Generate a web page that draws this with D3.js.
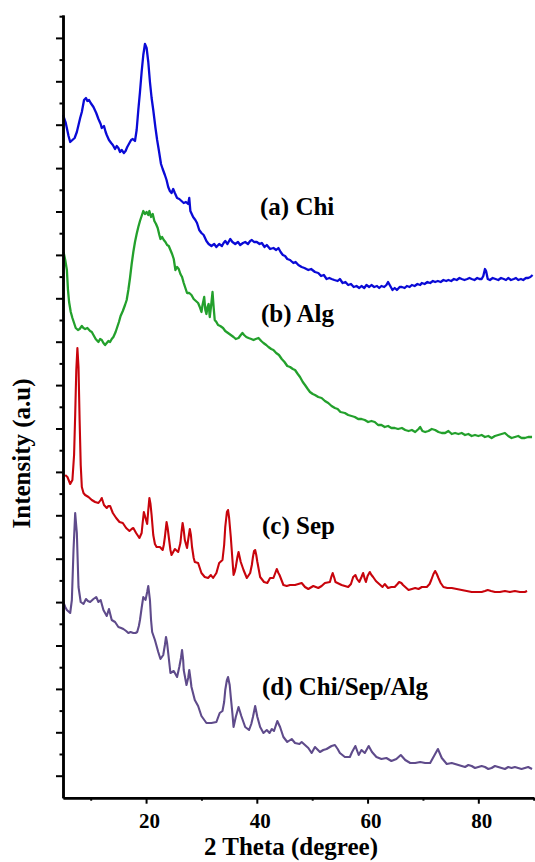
<!DOCTYPE html>
<html>
<head>
<meta charset="utf-8">
<script src="https://cdn.jsdelivr.net/npm/d3@7"></script>
<style>
  body { margin: 0; background: #fff; }
  svg { display: block; }
  text { font-family: "Liberation Serif", "Times New Roman", serif; font-weight: bold; fill: #000; }
</style>
</head>
<body>
<script>
// XRD patterns, stacked (intensity in a.u.)
const chi = [[5.0,685],[5.5,677],[6.0,664],[6.3,658],[6.7,660],[7.1,662],[7.5,668],[8.1,682],[8.4,688],[8.8,700],[9.15,702],[9.4,699],[9.7,700],[10.0,697],[10.5,693],[11.0,687],[11.4,681],[11.8,676],[12.0,672],[12.4,674],[12.7,668],[12.9,665],[13.3,660],[13.7,657],[14.0,655],[14.4,651],[14.7,654],[15.0,652],[15.3,648],[15.6,650],[16.0,647],[16.3,649],[16.6,653],[17.0,657],[17.3,660],[17.6,661],[18.0,659],[18.3,670],[18.6,690],[18.9,708],[19.2,728],[19.5,745],[19.8,756],[20.1,752],[20.4,738],[20.7,718],[21.0,702],[21.3,690],[21.7,672],[22.0,660],[22.3,650],[22.7,636],[23.0,631],[23.4,625],[23.7,620],[24.0,613],[24.3,609],[24.6,607],[24.9,611],[25.2,607],[25.6,602],[26.0,601],[26.4,599],[26.8,597],[27.2,598],[27.6,596],[27.8,602],[28.0,589],[28.5,583],[28.9,580],[29.2,577],[29.6,570],[30.0,567],[30.4,565],[30.9,559],[31.3,556],[31.8,554],[32.3,556],[32.7,553],[33.2,556],[33.7,554],[34.0,557],[34.3,559],[34.7,556],[35.2,561],[35.6,558],[36.1,556],[36.6,558],[37.0,555],[37.5,557],[37.9,558],[38.4,556],[38.8,559],[39.1,560],[39.5,558],[40.0,558],[40.5,556],[40.9,557],[41.4,553],[41.8,555],[42.4,551],[43.0,552],[43.5,550],[43.9,552],[44.3,548],[44.7,545],[45.1,544],[45.5,541],[46.0,540],[46.6,537],[47.0,538],[47.5,535],[48.1,533],[48.6,532],[49.3,530],[49.8,531],[50.5,528],[51.1,527],[51.6,524],[52.1,525],[52.6,521],[53.1,522],[53.5,521],[54.0,520],[54.6,519],[55.0,521],[55.5,517],[56.0,518],[56.5,515],[57.0,516],[57.5,513],[58.0,514],[58.5,512],[58.9,514],[59.4,512],[59.8,515],[60.3,513],[60.7,515],[61.2,513],[61.7,514],[62.1,512],[62.5,514],[63.0,513],[63.4,515],[63.7,518],[64.1,514],[64.5,510],[64.9,512],[65.3,510],[65.8,513],[66.2,513],[66.7,512],[67.1,514],[67.6,513],[68.0,515],[68.5,514],[69.0,516],[69.5,515],[69.8,517],[70.3,516],[70.8,518],[71.3,517],[71.8,519],[72.2,518],[72.7,519],[73.2,518],[73.7,520],[74.2,519],[74.6,520],[75.1,519],[75.6,521],[76.1,520],[76.6,522],[77.0,521],[77.5,520],[78.0,521],[78.4,522],[78.8,521],[79.3,520],[79.8,522],[80.2,521],[80.6,521],[80.9,524],[81.2,531],[81.4,529],[81.7,521],[82.1,520],[82.6,522],[83.1,521],[83.6,520],[84.1,522],[84.6,521],[85.0,520],[85.4,522],[85.9,520],[86.4,521],[86.8,522],[87.2,520],[87.7,521],[88.1,520],[88.6,522],[89.0,522],[89.4,523],[89.8,525]];

const alg = [[5.1,548],[5.4,540],[5.7,530],[5.9,510],[6.1,498],[6.4,488],[6.7,482],[7.0,477],[7.3,472],[7.7,470],[8.0,471],[8.4,474],[8.7,472],[9.0,471],[9.4,472],[9.9,469],[10.2,468],[10.5,465],[10.9,461],[11.4,458],[11.7,461],[12.0,460],[12.3,457],[12.6,455],[12.9,457],[13.2,459],[13.5,458],[13.8,461],[14.1,463],[14.5,468],[14.8,473],[15.1,478],[15.4,484],[15.8,489],[16.2,495],[16.5,500],[16.8,510],[17.1,522],[17.4,536],[17.7,548],[18.0,558],[18.3,566],[18.6,573],[18.9,579],[19.2,584],[19.5,589],[19.8,586],[20.1,588],[20.4,585],[20.6,589],[20.9,583],[21.2,586],[21.5,579],[21.8,576],[22.1,572],[22.4,565],[22.6,561],[22.9,563],[23.2,560],[23.5,558],[23.8,555],[24.1,554],[24.4,550],[24.7,546],[25.0,541],[25.3,530],[25.6,533],[25.9,531],[26.2,526],[26.5,523],[26.8,517],[27.1,512],[27.4,507],[27.8,507],[28.2,505],[28.6,501],[29.0,499],[29.4,497],[29.7,493],[30.0,488],[30.2,495],[30.5,503],[30.7,490],[30.9,486],[31.1,493],[31.3,496],[31.5,483],[31.8,497],[32.0,508],[32.2,493],[32.4,480],[32.7,478],[33.0,475],[33.4,474],[33.9,472],[34.3,469],[34.8,467],[35.3,465],[35.8,463],[36.2,461],[36.7,462],[37.1,465],[37.4,467],[37.7,465],[38.1,463],[38.5,462],[39.0,461],[39.4,460],[39.8,461],[40.3,462],[40.8,459],[41.2,457],[41.7,455],[42.1,453],[42.6,451],[43.0,450],[43.5,447],[44.0,445],[44.5,441],[45.0,438],[45.5,434],[46.0,433],[46.5,431],[46.9,430],[47.4,426],[47.8,423],[48.3,418],[48.7,415],[49.2,411],[49.6,408],[50.1,406],[50.5,405],[51.1,403],[51.7,402],[52.3,399],[52.9,397],[53.5,394],[54.1,392],[54.6,391],[55.1,388],[55.9,387],[56.5,385],[57.1,384],[57.7,383],[58.3,381],[58.9,381],[59.5,380],[60.1,378],[60.7,379],[61.3,378],[61.9,375],[62.5,375],[63.1,373],[63.7,374],[64.3,372],[64.9,372],[65.5,371],[66.2,372],[66.8,370],[67.4,369],[68.0,370],[68.6,368],[69.2,371],[69.5,373],[69.9,369],[70.4,368],[71.0,369],[71.6,371],[72.2,370],[72.8,368],[73.4,367],[74.0,367],[74.6,369],[75.2,366],[75.8,367],[76.4,366],[77.0,367],[77.6,365],[78.2,366],[78.8,364],[79.4,365],[80.0,364],[80.6,365],[81.2,363],[81.8,364],[82.4,362],[83.0,364],[83.6,365],[84.2,366],[84.8,367],[85.4,364],[86.0,362],[86.6,363],[87.2,364],[87.8,362],[88.4,362],[89.0,363],[89.7,363]];

const sep = [[5.4,325],[5.8,323],[6.3,316],[6.7,320],[7.0,345],[7.2,385],[7.4,430],[7.6,452],[7.8,433],[8.0,380],[8.2,335],[8.4,313],[8.7,307],[9.0,305],[9.6,303],[10.2,300],[10.8,298],[11.4,297],[11.8,300],[12.0,302],[12.4,295],[12.9,292],[13.2,294],[13.5,294],[14.0,287],[14.6,282],[15.2,278],[15.8,277],[16.4,272],[17.0,269],[17.4,271],[17.7,272],[18.2,267],[18.8,262],[19.2,267],[19.4,278],[19.6,288],[19.8,284],[20.0,280],[20.2,276],[20.4,290],[20.6,302],[20.8,296],[21.0,285],[21.3,265],[21.6,256],[21.9,253],[22.5,253],[23.0,250],[23.2,255],[23.4,263],[23.7,278],[23.9,272],[24.1,263],[24.4,250],[24.6,245],[25.2,251],[25.8,248],[26.2,257],[26.4,268],[26.6,277],[26.8,270],[27.0,260],[27.4,252],[27.6,260],[27.9,271],[28.1,265],[28.3,253],[28.6,242],[28.8,238],[29.4,237],[30.0,227],[30.6,223],[31.2,222],[31.7,225],[32.1,222],[32.7,227],[33.2,237],[33.8,240],[34.1,255],[34.3,273],[34.6,288],[34.8,290],[35.0,282],[35.3,263],[35.6,240],[35.8,225],[36.0,228],[36.2,233],[36.5,243],[36.7,248],[37.1,238],[37.6,230],[38.2,222],[38.8,227],[39.1,235],[39.3,243],[39.5,249],[39.7,250],[39.9,245],[40.1,238],[40.6,223],[41.3,218],[41.9,217],[42.4,222],[43.0,222],[43.4,228],[43.6,231],[43.9,227],[44.1,225],[44.8,215],[45.4,214],[46.0,215],[46.9,215],[47.5,216],[48.1,217],[48.7,213],[49.3,211],[50.2,214],[51.1,212],[51.7,214],[52.3,217],[53.2,218],[53.5,224],[53.7,227],[54.0,222],[54.2,218],[55.3,215],[56.5,213],[57.0,216],[57.4,223],[57.8,225],[58.1,221],[58.5,218],[58.9,223],[59.2,227],[59.5,221],[59.7,218],[60.0,224],[60.4,228],[60.7,225],[61.0,223],[61.5,219],[61.9,217],[62.7,213],[63.1,216],[63.7,212],[64.3,213],[64.9,213],[65.4,216],[65.7,218],[66.1,217],[66.4,215],[67.4,210],[68.0,211],[68.6,212],[69.2,211],[69.8,213],[70.7,213],[71.2,216],[71.5,220],[71.9,226],[72.2,229],[72.5,226],[72.8,222],[73.2,217],[73.7,213],[74.4,212],[75.2,212],[76.1,211],[77.0,210],[77.9,209],[78.8,208],[79.7,208],[80.6,208],[81.2,209],[81.7,210],[82.3,209],[83.0,208],[83.9,208],[84.8,209],[85.7,208],[86.6,209],[87.5,208],[88.4,208],[88.8,209]];

const chiSepAlg = [[5.05,198],[5.4,193],[5.7,190],[6.3,187],[6.6,200],[6.9,250],[7.2,287],[7.5,267],[7.8,213],[8.2,198],[8.7,196],[9.15,201],[9.5,199],[9.9,198],[10.5,201],[11.0,203],[11.4,198],[11.8,200],[12.3,190],[12.9,184],[13.3,191],[13.8,180],[14.4,178],[15.0,173],[15.5,172],[15.9,171],[16.4,169],[16.8,167],[17.2,168],[17.7,167],[18.1,167],[18.4,168],[18.7,174],[18.9,180],[19.2,192],[19.5,203],[19.9,200],[20.2,208],[20.4,214],[20.7,200],[20.9,180],[21.1,168],[21.6,160],[22.2,148],[22.6,141],[23.1,145],[23.4,155],[23.6,163],[23.8,157],[24.0,147],[24.4,127],[25.0,129],[25.6,123],[26.0,133],[26.3,142],[26.5,150],[26.7,140],[26.8,130],[27.3,115],[27.6,122],[27.8,130],[28.0,122],[28.2,113],[28.8,100],[29.4,94],[30.0,84],[30.9,77],[31.8,77],[32.7,78],[33.3,87],[33.8,89],[34.1,98],[34.3,110],[34.6,120],[34.8,123],[35.1,115],[35.3,103],[35.6,86],[35.8,73],[36.2,83],[36.7,93],[37.2,84],[37.9,73],[38.6,70],[39.0,76],[39.3,83],[39.7,94],[40.1,83],[40.6,73],[41.2,67],[41.8,70],[42.3,67],[42.7,71],[43.1,69],[43.7,79],[44.2,73],[44.8,63],[45.5,58],[46.3,61],[46.9,57],[47.7,56],[48.1,58],[48.7,55],[49.3,52],[49.9,47],[50.5,53],[51.4,48],[52.0,50],[52.6,51],[53.5,54],[54.1,55],[54.6,51],[55.0,47],[55.9,43],[56.8,43],[57.2,48],[57.8,54],[58.4,45],[58.9,50],[59.5,47],[60.2,54],[60.8,48],[61.6,43],[62.5,41],[63.4,42],[64.3,39],[65.2,41],[66.0,45],[66.8,40],[67.7,37],[68.6,37],[69.5,38],[70.4,37],[71.3,37],[71.9,43],[72.7,51],[73.4,42],[74.3,36],[75.2,37],[75.8,36],[76.4,35],[77.0,34],[77.6,33],[78.2,35],[78.8,34],[79.4,32],[80.0,33],[80.6,34],[81.2,33],[81.8,31],[82.4,32],[83.0,34],[83.6,33],[84.2,32],[84.8,31],[85.4,33],[86.0,32],[86.6,33],[87.2,32],[87.8,31],[88.4,32],[89.0,33],[89.7,31]];

const seriesNames = ["(a) Chi", "(b) Alg", "(c) Sep", "(d) Chi/Sep/Alg"];
const seriesColors = ["#0a0ad6", "#23a02c", "#c8040c", "#5f4b8b"];
const xMajorTicks = [20, 40, 60, 80];
const xMinorTicks = [10, 30, 50, 70, 90];

const width = 535;
const height = 862;
const plot = { left: 63, right: 533.7, top: 15, bottom: 797.7 };

const svg = d3.select("body")
  .append("svg")
  .attr("width", width)
  .attr("height", height);

const x = d3.scaleLinear()
  .domain([5, 90])
  .range([plot.left, plot.right]);

const y = d3.scaleLinear()
  .domain([2.3, 785])
  .range([plot.bottom, plot.top]);

// y ticks: unlabelled, major every other one
const yTicks = d3.range(24.3, 786, 21.7);
const yMajor = yTicks.filter((d, i) => i % 2 === 0);
const yMinor = yTicks.filter((d, i) => i % 2 === 1);

const line = d3.line()
  .x(d => x(d[0]))
  .y(d => y(d[1]));

const allSeries = [chi, alg, sep, chiSepAlg];

svg.selectAll(".xrd")
  .data(allSeries)
  .enter()
  .append("path")
  .attr("class", "xrd")
  .attr("d", line)
  .attr("fill", "none")
  .attr("stroke", (d, i) => seriesColors[i])
  .attr("stroke-width", (d, i) => i < 2 ? 2.3 : 2.1)
  .attr("stroke-linejoin", "round");

// x axis
const gxMinor = svg.append("g")
  .attr("transform", `translate(0,${plot.bottom})`)
  .call(d3.axisBottom(x).tickValues(xMinorTicks).tickSize(3).tickFormat("").tickSizeOuter(0));

const gx = svg.append("g")
  .attr("transform", `translate(0,${plot.bottom})`)
  .call(d3.axisBottom(x).tickValues(xMajorTicks).tickSize(6).tickSizeOuter(0));

gx.selectAll("text")
  .attr("y", 30)
  .attr("dy", 0)
  .attr("dx", 3)
  .style("font-size", "21px")
  .style("font-family", '"Liberation Serif", serif')
  .style("font-weight", "bold");

// y axis
const gyMinor = svg.append("g")
  .attr("transform", `translate(${plot.left},0)`)
  .call(d3.axisLeft(y).tickValues(yMinor).tickSize(3.5).tickFormat("").tickSizeOuter(0));

const gy = svg.append("g")
  .attr("transform", `translate(${plot.left},0)`)
  .call(d3.axisLeft(y).tickValues(yMajor).tickSize(7).tickFormat("").tickSizeOuter(0));

svg.selectAll(".domain").attr("stroke", "#000").attr("stroke-width", 2.5);
svg.selectAll(".tick line").attr("stroke", "#000").attr("stroke-width", 2);

// axis titles
svg.append("text")
  .attr("x", 291)
  .attr("y", 855)
  .attr("text-anchor", "middle")
  .style("font-size", "25px")
  .text("2 Theta (degree)");

svg.append("text")
  .attr("transform", "translate(30,453.5) rotate(-90)")
  .attr("text-anchor", "middle")
  .style("font-size", "25px")
  .text("Intensity (a.u)");

// series labels
const labelPos = [[260, 215], [261, 322], [262, 534], [262, 695]];
svg.selectAll(".series-label")
  .data(seriesNames)
  .enter()
  .append("text")
  .attr("class", "series-label")
  .attr("x", (d, i) => labelPos[i][0])
  .attr("y", (d, i) => labelPos[i][1])
  .style("font-size", "25px")
  .text(d => d);
</script>
</body>
</html>
